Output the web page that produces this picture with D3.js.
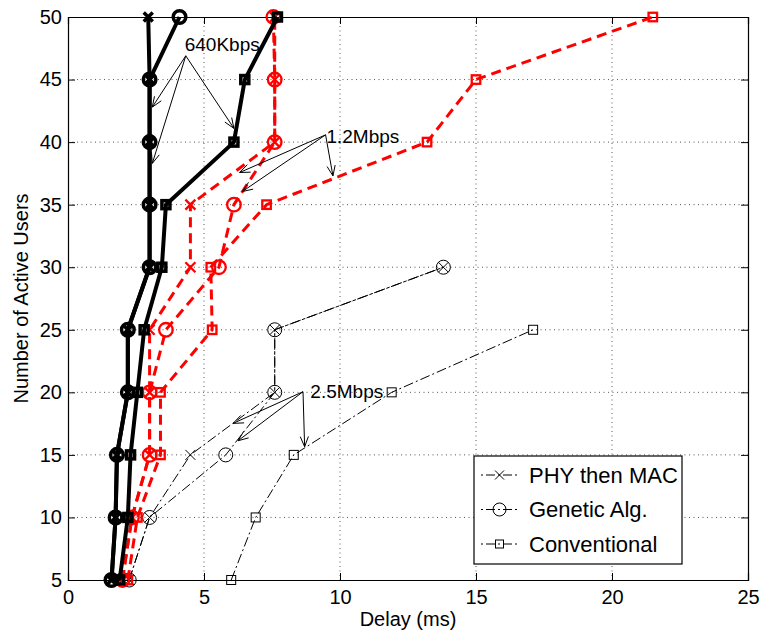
<!DOCTYPE html>
<html>
<head>
<meta charset="utf-8">
<script src="https://cdn.jsdelivr.net/npm/d3@7"></script>
<style>
  html, body { margin: 0; padding: 0; background: #fff; }
  svg text { font-family: "Liberation Sans", Arial, Helvetica, sans-serif; fill: #000; }
</style>
</head>
<body>
<svg id="chart" width="761" height="632"></svg>
<script>
// ---------------- data ----------------
const users = [5, 10, 15, 20, 25, 30, 35, 40, 45, 50];
const xTicks = [0, 5, 10, 15, 20, 25];
const yTicks = [5, 10, 15, 20, 25, 30, 35, 40, 45, 50];

// 640 Kbps (thick black solid)
const phy640  = [1.6, 1.75, 1.8, 2.2, 2.2, 3.0, 3.0, 3.0, 3.0, 2.95];
const ga640   = [1.6, 1.75, 1.8, 2.2, 2.2, 3.0, 3.0, 3.0, 3.0, 4.1];
const conv640 = [1.9, 2.2, 2.3, 2.55, 2.8, 3.45, 3.6, 6.1, 6.5, 7.7];

// 1.2 Mbps (red dashed)
const phy12  = [2.0, 2.35, 3.0, 3.0, 3.0, 4.5, 4.5, 7.6, 7.6, 7.6];
const ga12   = [2.0, 2.35, 3.0, 3.0, 3.6, 5.55, 6.1, 7.6, 7.6, 7.55];
const conv12 = [2.2, 2.55, 3.4, 3.4, 5.3, 5.25, 7.3, 13.2, 15.0, 21.5];

// 2.5 Mbps (thin black dash-dot)
const phy25  = [2.25, 3.0, 4.5, 7.6, 7.6, 13.8, null, null, null, null];
const ga25   = [2.25, 3.0, 5.8, 7.6, 7.6, 13.8, null, null, null, null];
const conv25 = [6.0, 6.9, 8.3, 11.9, 17.1, null, null, null, null, null];

const legendLabels = ["PHY then MAC", "Genetic Alg.", "Conventional"];
const legendMarkers = ["x", "o", "s"];

// annotations (data coordinates)
const annoLabels  = ["640Kbps", "1.2Mbps", "2.5Mbps"];
const annoText    = [[4.29, 47.8], [9.5, 40.5], [8.91, 20.05]];
const annoOrigin  = [[4.33, 46.9], [9.47, 40.58], [8.64, 20.05]];
const annoTargets = [
  [[3.1, 42.8], [3.1, 38.3], [6.1, 41.1]],
  [[6.31, 37.57], [6.41, 36.05], [9.74, 37.3]],
  [[6.07, 17.52], [6.25, 16.13], [8.70, 15.65]]
];

// ---------------- layout ----------------
const svg = d3.select("#chart");
const L = 68, T = 17, W = 680, H = 563;
const x = d3.scaleLinear().domain([0, 25]).range([L, L + W]);
const y = d3.scaleLinear().domain([5, 50]).range([T + H, T]);

svg.append("rect").attr("width", 761).attr("height", 632).attr("fill", "#fff");

// grid
const grid = svg.append("g");
grid.selectAll("line.gx").data(xTicks.filter(v => v > 0 && v < 25)).join("line")
  .attr("x1", d => x(d)).attr("x2", d => x(d)).attr("y1", T).attr("y2", T + H)
  .attr("stroke", "#555").attr("stroke-width", 1).attr("stroke-dasharray", "1,3.5");
grid.selectAll("line.gy").data(yTicks.filter(v => v > 5 && v < 50)).join("line")
  .attr("y1", d => y(d)).attr("y2", d => y(d)).attr("x1", L).attr("x2", L + W)
  .attr("stroke", "#555").attr("stroke-width", 1).attr("stroke-dasharray", "1,3.5");

// axes
const fs = 20;
const axB = svg.append("g").attr("transform", `translate(0,${T + H})`)
  .call(d3.axisBottom(x).tickValues(xTicks).tickSize(-7).tickPadding(10).tickFormat(d3.format("d")));
const axT = svg.append("g").attr("transform", `translate(0,${T})`)
  .call(d3.axisTop(x).tickValues(xTicks).tickSize(-7).tickFormat(""));
const axLft = svg.append("g").attr("transform", `translate(${L},0)`)
  .call(d3.axisLeft(y).tickValues(yTicks).tickSize(-7).tickPadding(6).tickFormat(d3.format("d")));
const axR = svg.append("g").attr("transform", `translate(${L + W},0)`)
  .call(d3.axisRight(y).tickValues(yTicks).tickSize(-7).tickFormat(""));
[axB, axT, axLft, axR].forEach(a => {
  a.select(".domain").attr("stroke", "#000").attr("stroke-width", 1.2);
  a.selectAll(".tick line").attr("stroke", "#000").attr("stroke-width", 1);
  a.selectAll("text").attr("font-size", fs).attr("font-family", "Liberation Sans, Arial, sans-serif");
});
axB.selectAll(".tick text").attr("dy", "0.71em");

svg.append("text").attr("x", x(12.5)).attr("y", 626).attr("text-anchor", "middle")
  .attr("font-size", 20).text("Delay (ms)");
svg.append("text").attr("transform", `translate(28,${(T + T + H) / 2}) rotate(-90)`)
  .attr("text-anchor", "middle").attr("font-size", 20).text("Number of Active Users");

// ---------------- series ----------------
const plot = svg.append("g");
function marker(g, type, cx, cy, st) {
  if (type === "x") {
    const s = st.xs;
    g.append("path").attr("d", `M${cx - s},${cy - s}L${cx + s},${cy + s}M${cx - s},${cy + s}L${cx + s},${cy - s}`)
      .attr("stroke", st.color).attr("stroke-width", st.mw).attr("fill", "none");
  } else if (type === "o") {
    g.append("circle").attr("cx", cx).attr("cy", cy).attr("r", st.r)
      .attr("stroke", st.color).attr("stroke-width", st.mw).attr("fill", "none");
  } else {
    const s = st.sq;
    g.append("rect").attr("x", cx - s / 2).attr("y", cy - s / 2).attr("width", s).attr("height", s)
      .attr("stroke", st.color).attr("stroke-width", st.mw).attr("fill", "none");
  }
}
function drawSeries(vals, type, st) {
  const pts = users.map((u, i) => [vals[i], u]).filter(p => p[0] != null);
  const line = d3.line().x(d => x(d[0])).y(d => y(d[1]));
  const g = plot.append("g");
  g.append("path").attr("d", line(pts)).attr("fill", "none").attr("stroke", st.color)
    .attr("stroke-width", st.lw).attr("stroke-dasharray", st.dash || null)
    .attr("stroke-linejoin", "round");
  pts.forEach(p => marker(g, type, x(p[0]), y(p[1]), st));
}

const thin  = { color: "#000", lw: 1, mw: 1, dash: "10,3,2,3", r: 7, sq: 9, xs: 5 };
const red   = { color: "#ff0000", lw: 3, mw: 2.3, dash: "10,6", r: 6.8, sq: 8.5, xs: 5 };
const thick = { color: "#000", lw: 4, mw: 3.5, dash: null, r: 6.3, sq: 8, xs: 4.5 };

drawSeries(conv25, "s", thin);
drawSeries(ga25, "o", thin);
drawSeries(phy25, "x", thin);

drawSeries(conv12, "s", red);
drawSeries(ga12, "o", red);
drawSeries(phy12, "x", red);

drawSeries(conv640, "s", thick);
drawSeries(ga640, "o", thick);
drawSeries(phy640, "x", thick);

// ---------------- annotations ----------------
const ann = svg.append("g");
annoLabels.forEach((lab, i) => {
  const o = annoOrigin[i];
  annoTargets[i].forEach(t => {
    const x1 = x(o[0]), y1 = y(o[1]), x2 = x(t[0]), y2 = y(t[1]);
    ann.append("line").attr("x1", x1).attr("y1", y1).attr("x2", x2).attr("y2", y2)
      .attr("stroke", "#000").attr("stroke-width", 1);
    const ang = Math.atan2(y2 - y1, x2 - x1), len = 11, spread = 0.38;
    const a1 = ang + Math.PI - spread, a2 = ang + Math.PI + spread;
    ann.append("path")
      .attr("d", `M${x2 + len * Math.cos(a1)},${y2 + len * Math.sin(a1)}L${x2},${y2}L${x2 + len * Math.cos(a2)},${y2 + len * Math.sin(a2)}`)
      .attr("stroke", "#000").attr("stroke-width", 1).attr("fill", "none");
  });
  ann.append("text").attr("x", x(annoText[i][0])).attr("y", y(annoText[i][1]))
    .attr("dy", "0.35em").attr("font-size", 19).text(lab);
});

// ---------------- legend ----------------
const lg = svg.append("g");
const lx = 474, ly = 456, lw = 208, lh = 108;
lg.append("rect").attr("x", lx).attr("y", ly).attr("width", lw).attr("height", lh)
  .attr("fill", "#fff").attr("stroke", "#000").attr("stroke-width", 1.2);
legendLabels.forEach((lab, i) => {
  const cy = ly + 19 + i * 34.5;
  lg.append("line").attr("x1", lx + 7).attr("x2", lx + 44).attr("y1", cy).attr("y2", cy)
    .attr("stroke", "#000").attr("stroke-width", 1).attr("stroke-dasharray", "2,3,9,3");
  marker(lg, legendMarkers[i], lx + 25.5, cy, { color: "#000", mw: 1, r: 6.5, sq: 8, xs: 4.5 });
  lg.append("text").attr("x", lx + 55).attr("y", cy).attr("dy", "0.35em")
    .attr("font-size", 22).text(lab);
});
</script>
</body>
</html>
